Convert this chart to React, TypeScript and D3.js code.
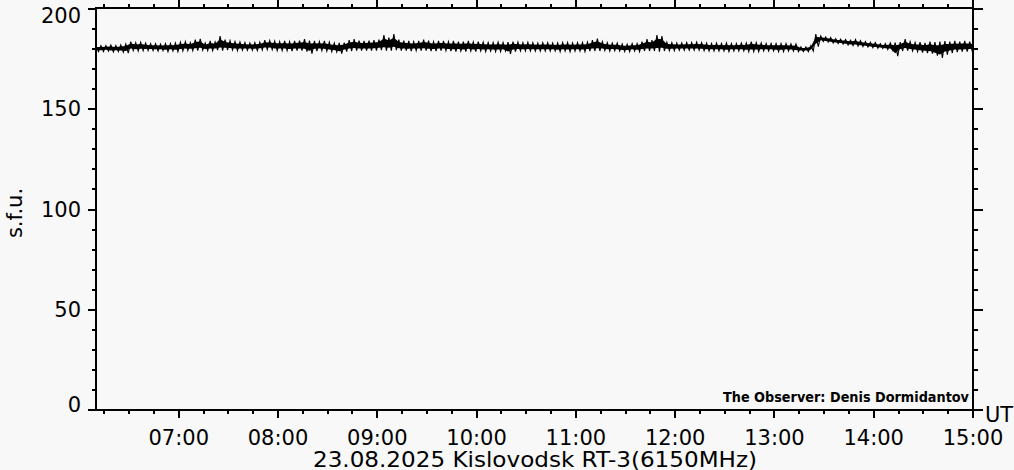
import React from 'react';
import * as d3 from 'd3';

const W = 1014;
const H = 470;

// time in minutes after 00:00 UT
const startMinutes = 370; // 06:10
const endMinutes = 900; // 15:00
const sampleStartMinutes = 370;
const sampleStepMinutes = 3;

// upper envelope of the noisy flux record (s.f.u.), one value per 3 minutes
const fluxHigh = [
  181.5, 181.5, 181.5, 181.8, 181.5, 181.8, 182.3, 183.5, 183, 183.2,
  182.8, 182.5, 182.5, 182.3, 182.5, 182.5, 182.8, 183.2, 183.5, 183,
  184.5, 184.8, 182.8, 183.8, 183.3, 186.2, 184.5, 184, 183.5, 183.3,
  183, 182.8, 183, 183.2, 184.2, 184,
  183.8, 183.5, 183.8, 183.5, 183.8, 184, 184.7, 184, 183.8, 183.5,
  183.8, 183.2, 182.8, 182.8, 183, 184.2, 184.7, 184, 183.8, 184,
  184.2, 184.5, 186.8, 185.5, 187.2, 184.5, 184, 183.8, 183.5, 183.8,
  184.5, 184, 183.5, 183.8, 183.8,
  183.5, 183.8, 183.5, 183.5, 183.8, 183.3, 183.5, 183.2, 183, 183,
  183.2, 183, 183.2, 183.5, 183.2, 183, 183.2, 183, 182.8, 183,
  183, 182.8, 182.8, 183, 183, 182.8, 183, 183, 183.2, 184.2,
  185, 183.5, 183, 182.8, 182.8,
  182.3, 182.2, 182.5, 182.5, 183.5, 184.7, 184.2, 186.8, 186.3, 183.2,
  183, 182.8, 182.8, 183, 183, 183.2, 183, 182.8, 182.5, 182.8,
  182.5, 182.8, 182.5, 182.5, 182.8, 182.8, 183.5, 183, 182.8, 182.5,
  182.5, 182.5, 182.5, 182.5, 182.3, 182.3,
  180.8, 180.8, 181.5, 187.2, 186.3, 185.8, 185.5, 185, 184.7, 184.5,
  184.2, 184.5, 184, 183.5, 183.2, 183, 182.5, 182.5, 182.8, 183,
  183.2, 184.7, 183.5, 183, 183.2, 182.8, 183.5, 183.2, 183.5, 183.8,
  183.5, 183.8, 183.5, 183.8, 183.5, 183.2,
];

// lower envelope of the noisy flux record (s.f.u.)
const fluxLow = [
  178.5, 178.5, 178.8, 178.3, 178.5, 178.2, 177.8, 179, 178.8, 179,
  179, 179, 178.8, 179, 178.5, 178.8, 178.5, 178.8, 179, 179,
  179, 179.2, 179, 179, 179.2, 179, 179.2, 179.3, 179, 179.2,
  179.2, 179.2, 179, 179.3, 179.5, 179.5,
  179, 179, 179, 178.8, 179, 179, 178.5, 177.5, 178.8, 179,
  178.8, 178.5, 178.3, 177.5, 178.5, 178.8, 179, 179, 179, 179,
  179, 179.2, 179, 179, 179.2, 179, 179, 178.8, 179, 179,
  179, 178.8, 178.8, 179, 179,
  178.8, 178.5, 178.8, 178.5, 178.8, 178.5, 178.8, 178.5, 178.8, 178.5,
  178.5, 178.8, 177.3, 178.5, 178.8, 178.8, 178.8, 178.8, 178.8, 178.8,
  178.8, 178.8, 178.5, 178.8, 178.5, 178.8, 178.8, 178.5, 178.8, 178.8,
  178.8, 179, 178.8, 179, 178.8,
  178.5, 178.5, 178.8, 178.5, 178.8, 178.8, 178.8, 178.5, 178.8, 179,
  179, 179.2, 179.2, 179.2, 179.2, 179.2, 179, 178.8, 178.8, 178.8,
  178.8, 178.5, 178.8, 178.8, 178.8, 178.5, 178.5, 178.5, 178.8, 178.8,
  178.8, 178.5, 178.5, 178.8, 178.8, 178.5,
  178.5, 178.5, 178.8, 181, 183.5, 183.3, 182.8, 182.5, 182.3, 181.8,
  181.5, 181.3, 181, 180.8, 180.5, 180.2, 180, 179.5, 179.2, 176.2,
  178.8, 179, 178.8, 178.5, 178, 177.8, 177.5, 176.5, 175.3, 177,
  177.8, 178.3, 178.5, 178.5, 178.8, 179,
];

const yMajorTicks = [0, 50, 100, 150, 200];
const xTickLabels = ['07:00', '08:00', '09:00', '10:00', '11:00', '12:00', '13:00', '14:00', '15:00'];
const yAxisLabel = 's.f.u.';
const timeUnitLabel = 'UT';
const titleText = '23.08.2025  Kislovodsk RT-3(6150MHz)';
const observerText = 'The Observer: Denis Dormidantov';

const FONT = '"DejaVu Sans", Verdana, sans-serif';

type Sample = { t: number; hi: number; lo: number };

export default function App() {
  const left = 96;
  const right = 973;
  const top = 8;
  const bottom = 409.5;

  const x = d3.scaleLinear().domain([startMinutes, endMinutes]).range([left, right]);
  const y = d3.scaleLinear().domain([0, 200]).range([bottom, 8.5]);

  const samples: Sample[] = fluxHigh.map((hi, i) => ({
    t: sampleStartMinutes + i * sampleStepMinutes,
    hi,
    lo: fluxLow[i],
  }));

  // solid core of the band (inner part of the envelope)
  const core = d3
    .area<Sample>()
    .x((d) => x(d.t))
    .y0((d) => y(d.lo + (d.hi - d.lo) * 0.22))
    .y1((d) => y(d.hi - (d.hi - d.lo) * 0.22))
    .curve(d3.curveLinear);

  // jagged trace reaching the envelope: top then bottom within each sample step
  const zig: [number, number][] = [];
  samples.forEach((d) => {
    zig.push([x(d.t), y(d.hi)]);
    zig.push([x(d.t + sampleStepMinutes / 2), y(d.lo)]);
  });
  const zigLine = d3.line().curve(d3.curveLinear)(zig) || '';

  const minorX = d3.range(375, endMinutes + 1, 15);
  const minorY = d3.range(0, 201, 10);

  const hourMinutes = xTickLabels.map((lbl) => {
    const [h, m] = lbl.split(':').map(Number);
    return h * 60 + m;
  });

  return (
    <svg
      width={W}
      height={H}
      style={{ position: 'fixed', left: 0, top: 0, background: '#f8f8f8' }}
      fontFamily={FONT}
    >
      <rect x={0} y={0} width={W} height={H} fill="#f8f8f8" />
      <defs>
        <clipPath id="plotClip">
          <rect x={left} y={top} width={right - left} height={bottom - top} />
        </clipPath>
      </defs>

      {/* data */}
      <g clipPath="url(#plotClip)">
        <path d={core(samples) || ''} fill="#000" stroke="none" />
        <path d={zigLine} fill="none" stroke="#000" strokeWidth={1.1} />
      </g>

      {/* frame */}
      <g stroke="#000" strokeWidth={2} shapeRendering="crispEdges" fill="none">
        <line x1={left} x2={left} y1={top - 1} y2={bottom + 1} />
        <line x1={right} x2={right} y1={top - 1} y2={bottom + 1} />
        <line x1={left - 1} x2={right + 1} y1={top} y2={top} />
        <line x1={left - 1} x2={right + 1} y1={bottom} y2={bottom} />

        {/* x ticks bottom and top */}
        {minorX.map((t) => {
          const major = t % 60 === 0;
          const xx = Math.round(x(t));
          return (
            <g key={'xt' + t}>
              <line x1={xx} x2={xx} y1={bottom} y2={bottom + (major ? 8.5 : 4.5)} />
              <line x1={xx} x2={xx} y1={top} y2={top - (major ? 8 : 4)} />
            </g>
          );
        })}

        {/* y ticks left and right */}
        {minorY.map((v) => {
          const major = v % 50 === 0;
          const yy = Math.round(y(v) - 0.5) + 0.5;
          return (
            <g key={'yt' + v}>
              <line x1={left} x2={left - (major ? 8 : 4)} y1={yy} y2={yy} />
              <line x1={right} x2={right + (major ? 10 : 5)} y1={yy} y2={yy} />
            </g>
          );
        })}
      </g>

      {/* y tick labels */}
      <g fontSize={21} fill="#000" textAnchor="end">
        {yMajorTicks.map((v) => {
          const base = Math.min(412, Math.max(22.5, y(v) + 7.5));
          return (
            <text key={'yl' + v} x={81} y={base}>
              {v}
            </text>
          );
        })}
      </g>

      {/* x tick labels */}
      <g fontSize={21} fill="#000" textAnchor="middle">
        {xTickLabels.map((lbl, i) => (
          <text key={'xl' + lbl} x={x(hourMinutes[i])} y={445}>
            {lbl}
          </text>
        ))}
      </g>

      <text x={985} y={422} fontSize={21} fill="#000">
        {timeUnitLabel}
      </text>

      <text transform="translate(22,213) rotate(-90)" fontSize={21} fill="#000" textAnchor="middle">
        {yAxisLabel}
      </text>

      <text x={313} y={467} fontSize={21} fill="#000" textLength={444} lengthAdjust="spacingAndGlyphs">
        {titleText}
      </text>

      <text
        x={723}
        y={402}
        fontSize={14}
        fontWeight="bold"
        fill="#000"
        textLength={246}
        lengthAdjust="spacingAndGlyphs"
      >
        {observerText}
      </text>
    </svg>
  );
}
